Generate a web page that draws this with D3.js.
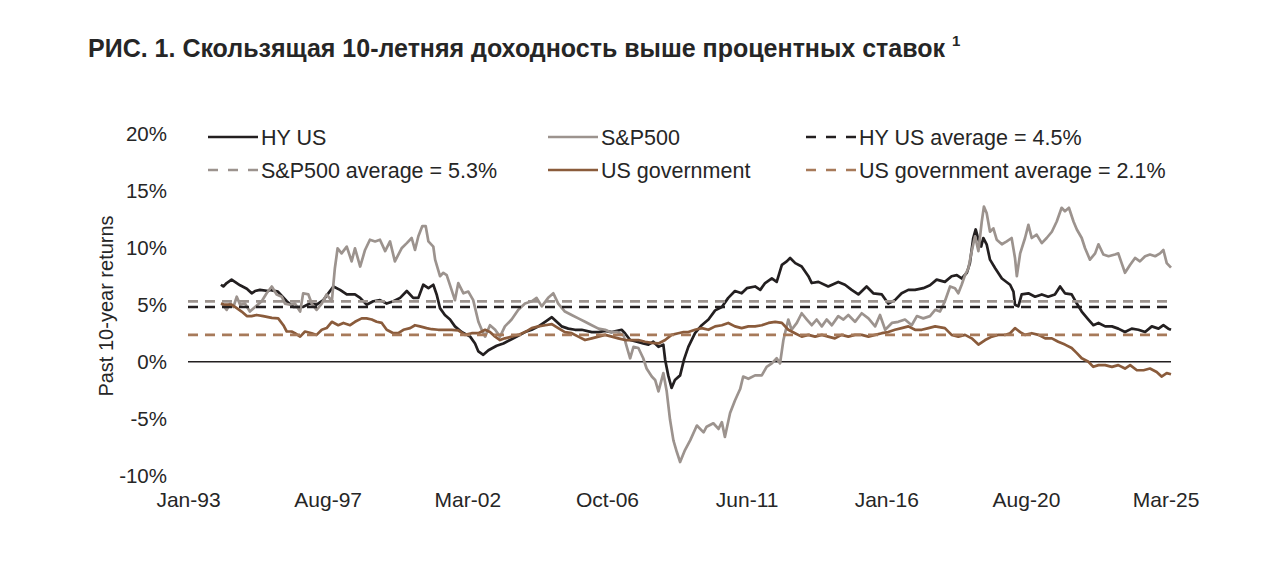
<!DOCTYPE html>
<html><head><meta charset="utf-8">
<script src="https://cdn.jsdelivr.net/npm/d3@7"></script>
<style>
body{margin:0;background:#fff}
svg{display:block}
text{font-family:"Liberation Sans",Arial,Helvetica,sans-serif;fill:#262626}
</style>
</head><body>
<svg id="chart" width="1280" height="575"></svg>
<script>
// ---------- DATA (decimal year, % return) ----------
const hyUS = [[1994.08,6.75],[1994.16,6.6],[1994.27,6.9],[1994.43,7.2],[1994.54,7.0],[1994.71,6.7],[1994.93,6.4],[1995.09,6.0],[1995.20,6.2],[1995.36,6.3],[1995.64,6.2],[1995.69,6.3],[1995.95,6.15],[1996.24,5.3],[1996.46,4.8],[1996.77,4.8],[1997.00,5.1],[1997.22,5.0],[1997.44,5.4],[1997.77,6.6],[1997.99,6.3],[1998.21,5.9],[1998.48,5.9],[1998.65,5.6],[1998.86,5.0],[1999.08,5.3],[1999.30,5.4],[1999.52,5.1],[1999.74,5.3],[1999.96,5.6],[2000.18,6.2],[2000.39,5.6],[2000.56,5.6],[2000.72,6.75],[2000.89,6.45],[2001.05,6.75],[2001.16,5.9],[2001.27,4.7],[2001.43,4.1],[2001.60,3.7],[2001.76,3.1],[2001.98,2.6],[2002.26,2.2],[2002.42,1.6],[2002.53,0.9],[2002.69,0.6],[2002.86,1.0],[2003.13,1.4],[2003.35,1.6],[2003.57,1.9],[2003.79,2.2],[2004.06,2.6],[2004.28,2.8],[2004.50,3.1],[2004.72,3.5],[2004.94,3.9],[2005.10,3.5],[2005.26,3.1],[2005.48,2.9],[2005.70,2.8],[2005.92,2.8],[2006.25,2.6],[2006.47,2.6],[2006.69,2.7],[2006.91,2.6],[2007.23,2.8],[2007.34,2.5],[2007.51,1.9],[2007.73,1.75],[2007.94,1.6],[2008.11,1.5],[2008.27,1.75],[2008.44,1.3],[2008.60,1.5],[2008.66,0.15],[2008.76,-1.2],[2008.87,-2.3],[2008.98,-1.6],[2009.15,-1.2],[2009.28,0.2],[2009.42,1.3],[2009.64,2.5],[2009.86,3.2],[2010.08,3.7],[2010.30,4.5],[2010.52,4.8],[2010.73,5.6],[2010.95,6.2],[2011.17,6.0],[2011.34,6.45],[2011.61,6.6],[2011.78,6.3],[2011.94,6.9],[2012.16,7.3],[2012.32,7.0],[2012.49,8.5],[2012.65,8.8],[2012.76,9.1],[2012.93,8.65],[2013.14,8.35],[2013.36,7.5],[2013.47,6.9],[2013.69,7.0],[2014.01,6.6],[2014.34,7.0],[2014.56,6.75],[2014.78,6.3],[2015.00,5.9],[2015.27,6.6],[2015.49,6.0],[2015.77,5.9],[2015.98,5.1],[2016.20,5.4],[2016.42,6.0],[2016.64,6.3],[2016.86,6.3],[2017.13,6.45],[2017.35,6.7],[2017.57,7.2],[2017.84,7.0],[2018.06,7.5],[2018.23,7.6],[2018.39,7.3],[2018.56,7.8],[2018.66,8.65],[2018.77,10.85],[2018.85,11.6],[2018.94,10.7],[2019.03,10.1],[2019.10,10.85],[2019.21,10.3],[2019.32,8.95],[2019.49,8.2],[2019.71,7.3],[2019.98,6.75],[2020.09,6.15],[2020.14,5.0],[2020.25,4.85],[2020.36,5.9],[2020.58,6.0],[2020.80,5.7],[2021.02,5.9],[2021.23,5.7],[2021.45,5.9],[2021.62,6.6],[2021.78,6.0],[2022.00,5.9],[2022.17,5.1],[2022.33,4.4],[2022.55,3.7],[2022.71,3.2],[2022.88,3.4],[2023.10,3.1],[2023.32,3.1],[2023.53,2.9],[2023.75,2.6],[2023.97,2.9],[2024.19,2.8],[2024.41,2.6],[2024.63,3.1],[2024.85,2.9],[2025.01,3.2],[2025.17,2.9],[2025.26,2.8]];

const sp500 = [[1994.11,5.1],[1994.27,4.55],[1994.38,5.1],[1994.49,4.8],[1994.60,5.7],[1994.71,5.0],[1994.87,5.1],[1995.03,4.4],[1995.20,4.8],[1995.42,5.3],[1995.58,6.0],[1995.75,6.6],[1995.91,5.9],[1996.08,5.7],[1996.18,5.1],[1996.35,5.0],[1996.51,5.1],[1996.68,4.4],[1996.78,6.0],[1996.95,5.9],[1997.06,5.1],[1997.22,4.55],[1997.39,5.1],[1997.55,5.9],[1997.72,5.3],[1997.82,8.2],[1997.91,9.95],[1998.04,9.5],[1998.21,10.1],[1998.37,8.8],[1998.48,9.95],[1998.65,8.35],[1998.81,9.8],[1998.97,10.7],[1999.14,10.55],[1999.30,10.7],[1999.47,9.7],[1999.63,10.55],[1999.79,8.8],[2000.01,9.95],[2000.18,10.4],[2000.34,10.85],[2000.45,9.8],[2000.56,11.0],[2000.69,11.9],[2000.80,11.9],[2000.89,10.55],[2001.05,10.1],[2001.11,8.95],[2001.27,7.5],[2001.38,7.8],[2001.49,7.6],[2001.65,6.3],[2001.76,5.4],[2001.87,6.9],[2002.04,6.0],[2002.20,6.15],[2002.36,5.4],[2002.53,3.5],[2002.64,2.8],[2002.75,2.2],[2002.91,3.2],[2003.08,2.8],[2003.24,2.2],[2003.40,3.1],[2003.62,3.7],[2003.84,4.55],[2004.06,5.1],[2004.28,5.3],[2004.44,5.6],[2004.61,4.85],[2004.82,5.6],[2004.99,6.0],[2005.15,5.1],[2005.37,4.4],[2005.59,4.1],[2005.81,3.8],[2006.03,3.5],[2006.25,3.2],[2006.47,2.9],[2006.69,2.8],[2006.85,2.6],[2007.07,2.6],[2007.29,2.35],[2007.40,1.3],[2007.51,0.3],[2007.62,1.3],[2007.78,1.2],[2007.94,0.3],[2008.05,-0.6],[2008.22,-1.3],[2008.33,-1.6],[2008.44,-2.6],[2008.60,-1.0],[2008.71,-2.6],[2008.82,-5.1],[2008.93,-6.9],[2009.04,-7.9],[2009.15,-8.8],[2009.31,-7.75],[2009.48,-6.9],[2009.70,-5.6],[2009.92,-6.2],[2010.02,-5.7],[2010.24,-5.4],[2010.41,-5.9],[2010.52,-5.3],[2010.62,-6.6],[2010.79,-4.5],[2010.95,-3.4],[2011.12,-2.4],[2011.22,-1.3],[2011.39,-1.5],[2011.61,-1.2],[2011.83,-1.2],[2011.99,-0.45],[2012.16,-0.15],[2012.32,0.3],[2012.43,-0.15],[2012.54,1.9],[2012.70,3.7],[2012.81,2.8],[2012.98,3.4],[2013.14,4.25],[2013.31,3.7],[2013.47,3.2],[2013.63,3.7],[2013.80,3.1],[2013.96,3.7],[2014.13,3.2],[2014.34,4.0],[2014.51,3.7],[2014.67,4.1],[2014.89,3.5],[2015.11,4.25],[2015.33,3.8],[2015.55,3.1],[2015.71,4.1],[2015.88,2.8],[2016.10,3.4],[2016.31,3.5],[2016.53,3.7],[2016.75,3.2],[2016.92,4.0],[2017.13,3.8],[2017.35,4.0],[2017.52,4.55],[2017.68,4.4],[2017.84,5.3],[2018.01,6.6],[2018.17,6.45],[2018.28,6.0],[2018.39,6.75],[2018.50,7.6],[2018.61,8.2],[2018.72,9.7],[2018.83,11.0],[2018.94,9.7],[2019.05,12.3],[2019.12,13.6],[2019.21,13.05],[2019.32,11.4],[2019.43,11.7],[2019.54,10.7],[2019.71,10.3],[2019.87,10.55],[2020.03,10.85],[2020.14,9.1],[2020.20,7.5],[2020.31,9.5],[2020.47,10.85],[2020.58,12.0],[2020.69,10.85],[2020.85,11.15],[2021.02,10.4],[2021.18,10.85],[2021.35,11.4],[2021.51,12.3],[2021.67,13.5],[2021.78,13.2],[2021.91,13.5],[2022.06,12.3],[2022.17,11.6],[2022.33,10.85],[2022.44,9.95],[2022.60,8.95],[2022.77,9.5],[2022.88,10.3],[2023.04,9.4],[2023.21,9.25],[2023.42,9.4],[2023.53,9.5],[2023.64,8.65],[2023.75,7.8],[2023.92,8.5],[2024.08,9.1],[2024.24,8.8],[2024.41,9.25],[2024.57,9.4],[2024.74,9.25],[2024.90,9.5],[2025.01,9.8],[2025.12,8.65],[2025.26,8.25]];

const usGov = [[1994.08,5.1],[1994.21,5.0],[1994.43,5.0],[1994.60,4.7],[1994.76,4.4],[1994.93,4.0],[1995.09,4.0],[1995.25,4.1],[1995.47,4.0],[1995.75,3.85],[1995.96,3.8],[1996.13,3.2],[1996.24,2.65],[1996.40,2.65],[1996.51,2.5],[1996.68,2.2],[1996.84,2.65],[1997.06,2.5],[1997.22,2.35],[1997.39,2.8],[1997.55,2.95],[1997.72,3.5],[1997.93,3.2],[1998.10,3.4],[1998.32,3.2],[1998.48,3.5],[1998.70,3.8],[1998.86,3.8],[1999.03,3.7],[1999.19,3.5],[1999.36,3.4],[1999.52,2.8],[1999.74,2.5],[1999.90,2.5],[2000.07,2.8],[2000.29,2.95],[2000.45,3.2],[2000.61,3.1],[2000.83,2.95],[2001.00,2.85],[2001.21,2.8],[2001.43,2.8],[2001.65,2.8],[2001.87,2.75],[2002.09,2.35],[2002.31,2.5],[2002.53,2.5],[2002.75,2.8],[2002.91,2.6],[2003.08,2.2],[2003.24,1.9],[2003.40,2.05],[2003.62,2.2],[2003.84,2.35],[2004.06,2.6],[2004.28,2.95],[2004.50,3.1],[2004.72,3.2],[2004.94,3.3],[2005.15,2.95],[2005.37,2.6],[2005.59,2.5],[2005.81,2.2],[2006.03,1.9],[2006.25,2.05],[2006.47,2.2],[2006.69,2.35],[2006.91,2.2],[2007.12,2.05],[2007.34,1.9],[2007.56,1.9],[2007.78,1.9],[2008.00,1.75],[2008.22,1.65],[2008.44,1.6],[2008.66,1.9],[2008.87,2.35],[2009.09,2.5],[2009.26,2.6],[2009.42,2.6],[2009.64,2.8],[2009.86,2.95],[2010.08,2.8],[2010.30,3.1],[2010.52,3.2],[2010.73,3.4],[2010.95,3.1],[2011.17,2.95],[2011.39,3.1],[2011.61,3.1],[2011.83,3.2],[2012.05,3.4],[2012.27,3.5],[2012.49,3.4],[2012.70,2.8],[2012.92,2.5],[2013.14,2.2],[2013.36,2.35],[2013.58,2.2],[2013.80,2.35],[2014.01,2.2],[2014.23,2.05],[2014.45,2.35],[2014.67,2.2],[2014.89,2.35],[2015.11,2.35],[2015.33,2.2],[2015.55,2.35],[2015.77,2.5],[2015.98,2.6],[2016.20,2.8],[2016.42,2.95],[2016.64,3.1],[2016.86,2.8],[2017.08,2.8],[2017.30,2.95],[2017.52,3.1],[2017.84,2.95],[2018.06,2.35],[2018.28,2.2],[2018.50,2.35],[2018.72,2.05],[2018.94,1.5],[2019.16,1.9],[2019.38,2.2],[2019.59,2.35],[2019.81,2.35],[2019.98,2.5],[2020.14,2.95],[2020.31,2.6],[2020.47,2.35],[2020.69,2.5],[2020.91,2.35],[2021.13,2.05],[2021.35,2.05],[2021.56,1.75],[2021.78,1.5],[2022.00,1.2],[2022.17,0.75],[2022.33,0.3],[2022.55,0.0],[2022.71,-0.45],[2022.88,-0.3],[2023.10,-0.3],[2023.32,-0.45],[2023.53,-0.3],[2023.75,-0.6],[2023.92,-0.3],[2024.14,-0.75],[2024.36,-0.75],[2024.57,-0.6],[2024.79,-0.9],[2024.95,-1.3],[2025.12,-1.0],[2025.26,-1.1]];

const averages = [4.8, 5.3, 2.35];               // HY US, S&P500, US government (as drawn)
const legendLabels = ["HY US","S&P500","HY US average = 4.5%","S&P500 average = 5.3%","US government","US government average = 2.1%"];
const xTickLabels = ["Jan-93","Aug-97","Mar-02","Oct-06","Jun-11","Jan-16","Aug-20","Mar-25"];
const yTicks = [-10,-5,0,5,10,15,20];
const titleText = "РИС. 1. Скользящая 10-летняя доходность выше процентных ставок";
const yAxisTitle = "Past 10-year returns";

// ---------- STYLE ----------
const C = {hy:"#231f20", sp:"#9c938e", gov:"#8a5b3b", govAvg:"#a77a5a"};
const svg = d3.select("#chart");
const x = d3.scaleLinear().domain([1993, 2025.26]).range([188, 1171]);
const y = d3.scaleLinear().domain([-10, 20]).range([475.7, 133.7]);

// title
const t = svg.append("text").attr("x", 88).attr("y", 57)
  .style("font-weight","bold").style("font-size","25px").attr("fill","#1a1a1a").text(titleText);
t.append("tspan").attr("dx", 7).attr("dy", -11).style("font-size","15px").text("1");

// y axis labels
const yAxis = d3.axisLeft(y).tickValues(yTicks).tickSize(0).tickPadding(0).tickFormat(d => d + "%");
const ya = svg.append("g").attr("transform","translate(167,0)").call(yAxis);
ya.select(".domain").remove();
ya.selectAll("text").style("font-size","20.5px").attr("fill","#262626").style("font-family",'"Liberation Sans",Arial,sans-serif');

// x axis labels
const tickYears = xTickLabels.map((_, i) => 1993 + i * 55 / 12);
const xAxis = d3.axisBottom(x).tickValues(tickYears).tickSize(0).tickPadding(0).tickFormat((d, i) => xTickLabels[i]);
const xa = svg.append("g").attr("transform","translate(0,492)").call(xAxis);
xa.select(".domain").remove();
xa.selectAll("text").style("font-size","21px").attr("fill","#262626").style("font-family",'"Liberation Sans",Arial,sans-serif');

// y title
svg.append("text").attr("transform","translate(113,306) rotate(-90)").attr("text-anchor","middle")
  .style("font-size","20px").text(yAxisTitle);

// zero line
svg.append("line").attr("x1", x(1993)).attr("x2", x(2025.26)).attr("y1", y(0)).attr("y2", y(0))
  .attr("stroke","#231f20").attr("stroke-width",1.6);

const line = d3.line().x(d => x(d[0])).y(d => y(d[1]));
const drawSeries = (data, color) => svg.append("path").datum(data).attr("d", line)
  .attr("fill","none").attr("stroke", color).attr("stroke-width", 2.7).attr("stroke-linejoin","round");
const drawAvg = (v, color) => svg.append("line").attr("x1", x(1993)).attr("x2", x(2025.26))
  .attr("y1", y(v)).attr("y2", y(v)).attr("stroke", color).attr("stroke-width", 2.7).attr("stroke-dasharray","10,7");

drawSeries(hyUS, C.hy);
drawSeries(sp500, C.sp);
drawAvg(averages[0], C.hy);
drawAvg(averages[1], C.sp);
drawSeries(usGov, C.gov);
drawAvg(averages[2], C.govAvg);

// legend
const legColors = [C.hy, C.sp, C.hy, C.sp, C.gov, C.govAvg];
const legDashed = [false, false, true, true, false, true];
const colX = [208, 548, 806], rowY = [137, 170];
legendLabels.forEach((lab, i) => {
  const cx = colX[i % 3], cy = rowY[Math.floor(i / 3)];
  const g = svg.append("g").attr("transform", `translate(${cx},${cy})`);
  g.append("line").attr("x1",0).attr("x2",50).attr("y1",0).attr("y2",0)
    .attr("stroke", legColors[i]).attr("stroke-width", 2.7)
    .attr("stroke-dasharray", legDashed[i] ? "10,10" : null);
  g.append("text").attr("x", 53).attr("y", 7.5).style("font-size","21.5px").text(lab);
});
</script>
</body></html>
